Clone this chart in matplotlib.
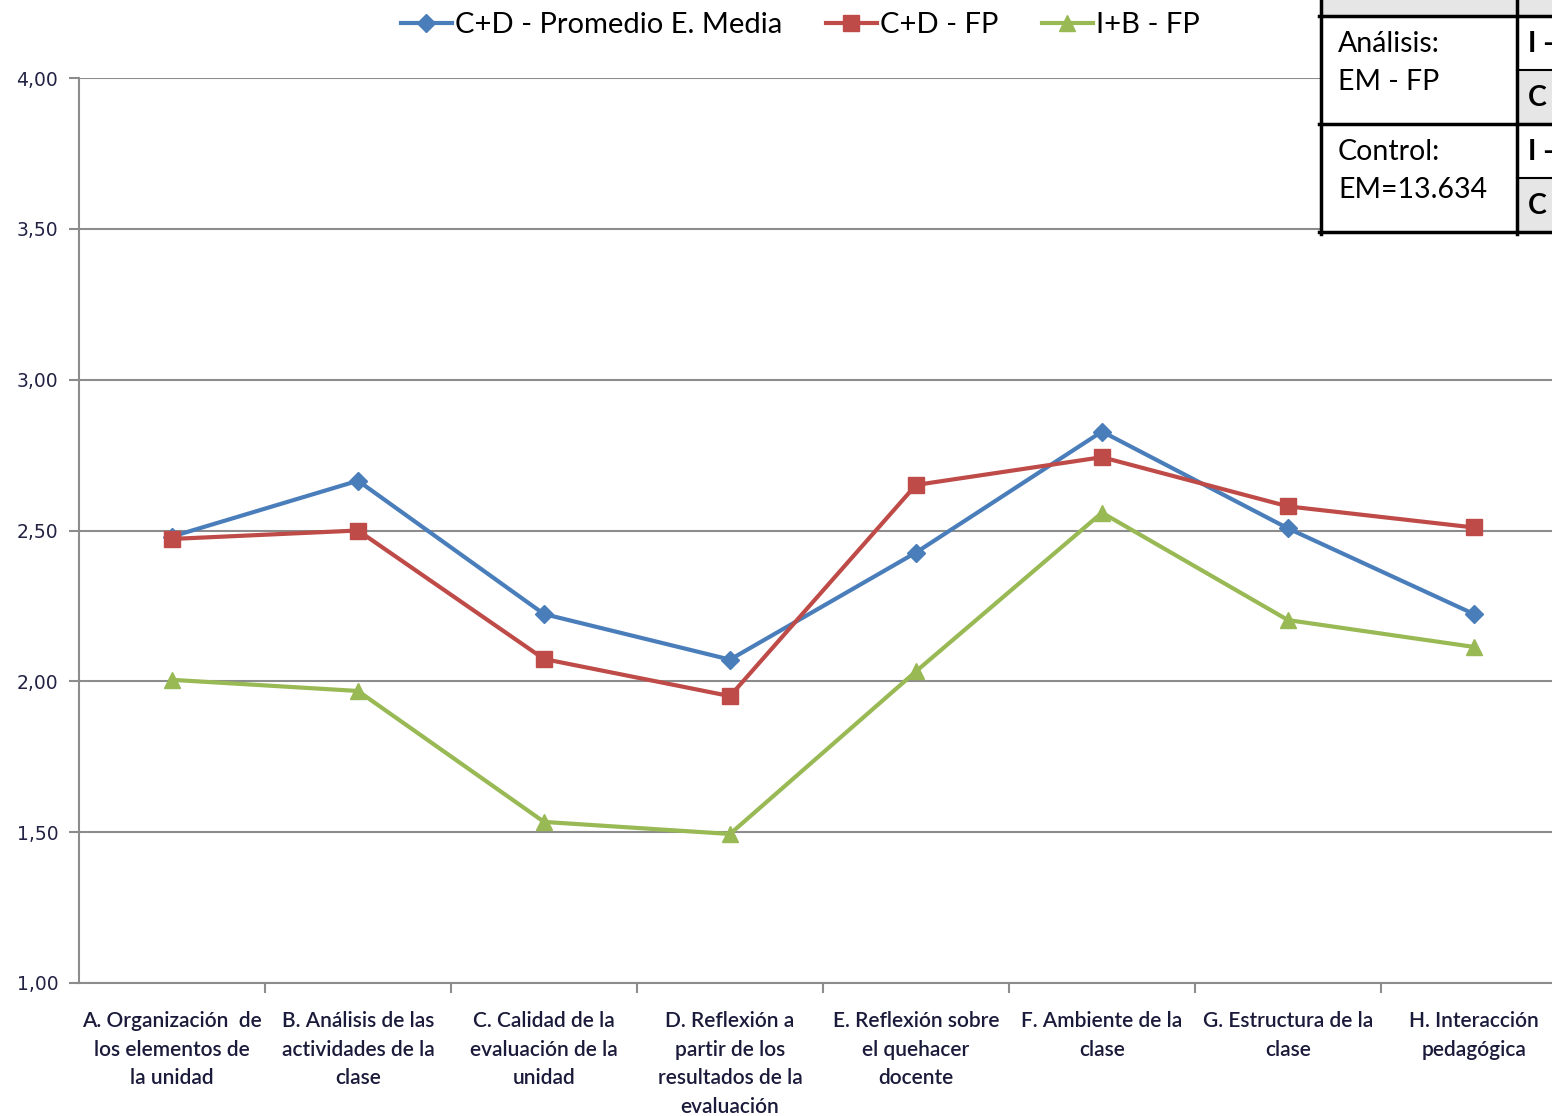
import numpy as np
import matplotlib
matplotlib.use("Agg")
import matplotlib.pyplot as plt
from matplotlib.patches import Rectangle
from matplotlib.lines import Line2D

# data
categories = [
    "A. Organización  de\nlos elementos de\nla unidad",
    "B. Análisis de las\nactividades de la\nclase",
    "C. Calidad de la\nevaluación de la\nunidad",
    "D. Reflexión a\npartir de los\nresultados de la\nevaluación",
    "E. Reflexión sobre\nel quehacer\ndocente",
    "F. Ambiente de la\nclase",
    "G. Estructura de la\nclase",
    "H. Interacción\npedagógica",
]
cd_media = [2.48, 2.665, 2.223, 2.072, 2.427, 2.828, 2.507, 2.223]
cd_fp = [2.472, 2.50, 2.074, 1.951, 2.651, 2.743, 2.580, 2.510]
ib_fp = [2.005, 1.968, 1.534, 1.494, 2.033, 2.559, 2.203, 2.114]
series_names = ["C+D - Promedio E. Media", "C+D - FP", "I+B - FP"]
yticks = [1.0, 1.5, 2.0, 2.5, 3.0, 3.5, 4.0]

W, H = 1552, 1116
fig = plt.figure(figsize=(W / 100, H / 100), dpi=100)

def fx(px):
    return px / W

def fy(py):
    return 1 - py / H

ax = fig.add_axes([fx(79), fy(983), fx(1567) - fx(79), fy(78) - fy(983)])

blue, red, green = "#4a7ebb", "#be4b48", "#98b954"
x = np.arange(len(categories))
ax.plot(x, cd_media, color=blue, lw=3, marker="D", ms=9, zorder=3, label=series_names[0])
ax.plot(x, cd_fp, color=red, lw=3, marker="s", ms=11, zorder=3, label=series_names[1])
ax.plot(x, ib_fp, color=green, lw=3, marker="^", ms=11, zorder=3, label=series_names[2])

ax.set_xlim(-0.5, len(categories) - 0.5)
ax.set_ylim(1.0, 4.0)
ax.set_yticks(yticks)
ax.set_yticklabels([f"{v:.2f}".replace(".", ",") for v in yticks],
                   fontsize=13.5, color="#222244", family="DejaVu Sans")
ax.yaxis.grid(True, color="#8c8c8c", lw=1.5)
ax.set_axisbelow(True)

ax.set_xticks(x)
ax.set_xticklabels(categories, fontsize=15, family="Lato", fontweight="semibold",
                   color="#1a1a3a", linespacing=1.55)
ax.set_xticks(np.arange(0.5, len(categories) - 0.5), minor=True)
ax.tick_params(axis="x", which="major", length=0, pad=20)
ax.tick_params(axis="x", which="minor", length=7, width=1.5, color="#8c8c8c", direction="out")
ax.tick_params(axis="y", length=7, width=1.5, color="#8c8c8c", pad=8)

for s in ["top", "right"]:
    ax.spines[s].set_visible(False)
for s in ["left", "bottom"]:
    ax.spines[s].set_color("#8c8c8c")
    ax.spines[s].set_linewidth(1.5)

leg = fig.legend(loc="center", bbox_to_anchor=(fx(800), fy(25)), ncol=3, frameon=False,
                 prop={"family": "Lato", "size": 21}, handlelength=1.75, handletextpad=0.1,
                 columnspacing=1.5)

# table cropped in the top-right corner
tbl_z = 10
fig.patches.append(Rectangle((fx(1321), fy(232)), fx(W - 1321), fy(0) - fy(232),
                             transform=fig.transFigure, facecolor="white",
                             edgecolor="none", zorder=tbl_z))
for top, bot in [(0, 16), (70, 124), (178, 232)]:
    left = 1321 if top == 0 else 1517
    fig.patches.append(Rectangle((fx(left), fy(bot)), fx(W - left), fy(top) - fy(bot),
                                 transform=fig.transFigure, facecolor="#e6e6e6",
                                 edgecolor="none", zorder=tbl_z + 1))
for xv in [1321, 1517]:
    fig.add_artist(Line2D([fx(xv), fx(xv)], [fy(0), fy(234)], color="black", lw=2.5,
                          zorder=tbl_z + 2))
for yv in [16, 124, 232]:
    fig.add_artist(Line2D([fx(1319), fx(W)], [fy(yv), fy(yv)], color="black", lw=2.5,
                          zorder=tbl_z + 2))
for yv in [70, 178]:
    fig.add_artist(Line2D([fx(1517), fx(W)], [fy(yv), fy(yv)], color="black", lw=1.5,
                          zorder=tbl_z + 2))

cell_font = {"family": "Lato", "size": 20.5, "color": "black", "zorder": tbl_z + 3}
fig.text(fx(1338), fy(44), "Análisis:", va="center", **cell_font)
fig.text(fx(1338), fy(82), "EM - FP", va="center", **cell_font)
fig.text(fx(1338), fy(152), "Control:", va="center", **cell_font)
fig.text(fx(1338), fy(190), "EM=13.634", va="center", **cell_font)
for yv, t in [(44, "I -"), (98, "C"), (152, "I -"), (206, "C")]:
    fig.text(fx(1528), fy(yv), t, va="center", fontweight="bold", **cell_font)

fig.savefig("out.png", dpi=100)
